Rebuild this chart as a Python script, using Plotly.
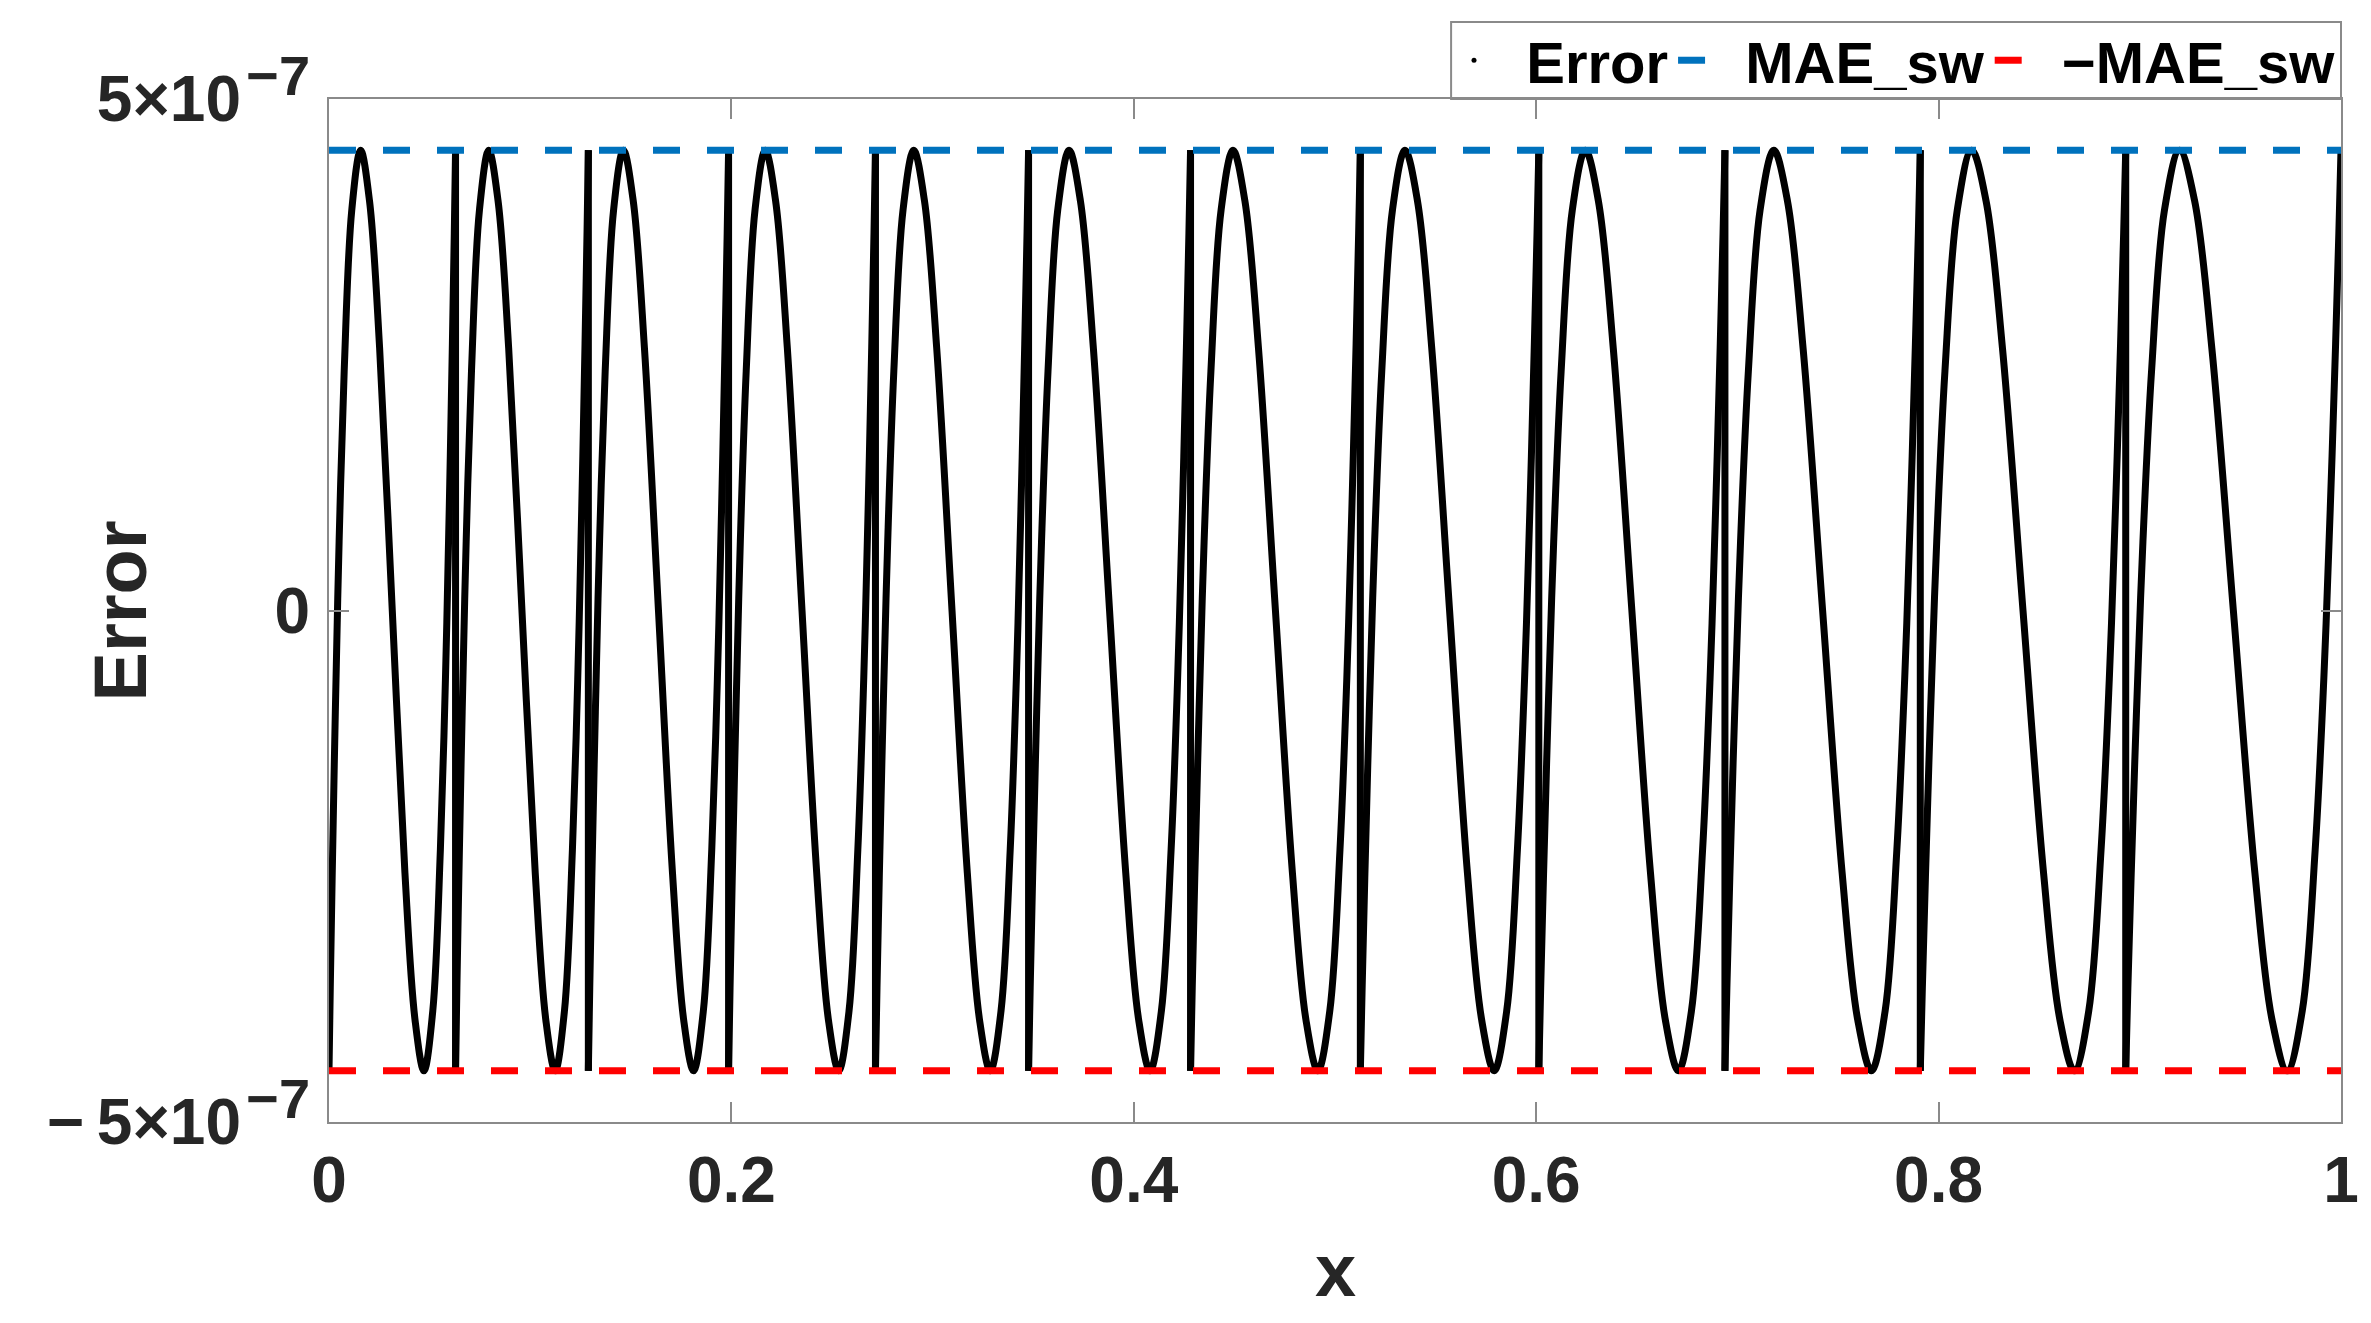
import plotly.graph_objects as go

# ---- data ----
# breakpoints of the piecewise approximation (x positions where the error jumps)
segment_edges = [0.0, 0.0629, 0.1289, 0.1986, 0.2716, 0.3477, 0.4282,
                 0.5126, 0.6013, 0.6938, 0.7909, 0.8930, 1.0]
# maximum absolute error level (dashed lines)
mae_sw = 4.5e-7
profile_frac = [0.0, 0.01, 0.025, 0.05, 0.08, 0.12, 0.18, 0.25, 0.32, 0.40, 0.50,
                0.60, 0.68, 0.75, 0.82, 0.88, 0.92, 0.95, 0.975, 0.99, 1.0]
profile_err = [-1.0, -0.82, -0.58, -0.22, 0.15, 0.52, 0.87, 1.0, 0.89, 0.57, 0.0,
               -0.57, -0.89, -1.0, -0.87, -0.52, -0.15, 0.22, 0.58, 0.82, 1.0]
x_ticks = [0, 0.2, 0.4, 0.6, 0.8, 1]
x_tick_labels = ["0", "0.2", "0.4", "0.6", "0.8", "1"]
y_ticks = [-5e-7, 0, 5e-7]
SUP = "\u200a<sup><span style='font-size:56px'>\u22127</span></sup>\u200b"
y_tick_labels = ["\u2212\u20095\u00d710" + SUP, "0", "5\u00d710" + SUP]
legend_names = ["Error", "MAE_sw", "\u2212MAE_sw"]

# ---- build error curve ----
ex, ey = [], []
jx, jy = [], []
for a, b in zip(segment_edges[:-1], segment_edges[1:]):
    w = b - a
    ex += [a + f * w for f in profile_frac] + [None]
    ey += [mae_sw * p for p in profile_err] + [None]
for e in segment_edges[1:-1]:
    jx += [e, e, None]
    jy += [mae_sw * profile_err[-1], mae_sw * profile_err[0], None]

FONT = "Liberation Sans, Arial, Helvetica, sans-serif"
AXC = "#8a8a8a"
NB = "\u00a0\u00a0"

fig = go.Figure()
fig.add_trace(go.Scatter(x=ex, y=ey, mode="lines", line=dict(color="black", width=7, shape="spline", smoothing=1.0),
                         connectgaps=False, showlegend=False, hoverinfo="skip"))
fig.add_trace(go.Scatter(x=jx, y=jy, mode="lines", line=dict(color="black", width=7),
                         connectgaps=False, showlegend=False, hoverinfo="skip"))
fig.add_trace(go.Scatter(x=[None], y=[None], mode="markers", name=NB + legend_names[0],
                         marker=dict(color="black", size=5)))
fig.add_trace(go.Scatter(x=[0, 1], y=[mae_sw, mae_sw], mode="lines", name=NB + legend_names[1],
                         line=dict(color="#0072BD", width=7, dash="27px,27px")))
fig.add_trace(go.Scatter(x=[0, 1], y=[-mae_sw, -mae_sw], mode="lines", name=NB + legend_names[2],
                         line=dict(color="#FF0000", width=7, dash="27px,27px")))

# page body has an 8px default margin: figure is 8px smaller and margins shifted accordingly
fig.update_layout(
    width=2363, height=1315,
    margin=dict(l=321, r=30, t=91, b=201, autoexpand=False),
    paper_bgcolor="white", plot_bgcolor="white",
    font=dict(family=FONT, size=64, color="#262626", weight="bold"),
    showlegend=True,
    legend=dict(orientation="h", x=1, xanchor="right", y=1.0376, yanchor="middle",
                borderwidth=0, bgcolor="rgba(0,0,0,0)",
                font=dict(family=FONT, size=58, color="black", weight="bold"),
                itemwidth=30, tracegroupgap=0),
    shapes=[dict(type="rect", xref="paper", yref="paper", x0=0.5577, x1=1.0, y0=1.0, y1=1.0753,
                 line=dict(color=AXC, width=2), fillcolor="white", layer="below")],
    xaxis=dict(range=[0, 1], tickvals=x_ticks, ticktext=x_tick_labels, automargin=False,
               showgrid=False, zeroline=False, showline=True, linecolor=AXC, linewidth=2,
               mirror="allticks", ticks="inside", ticklen=20, tickwidth=2, tickcolor=AXC,
               ticklabelstandoff=1),
    yaxis=dict(range=[-5e-7, 5e-7], tickvals=y_ticks, ticktext=y_tick_labels, automargin=False,
               showgrid=False, zeroline=False, showline=True, linecolor=AXC, linewidth=2,
               mirror="allticks", ticks="inside", ticklen=20, tickwidth=2, tickcolor=AXC,
               ticklabelstandoff=4),
    annotations=[
        dict(text="x", xref="paper", yref="paper", x=0.5, y=-0.1456, xanchor="center", yanchor="middle",
             showarrow=False, font=dict(family=FONT, size=74, color="#262626", weight="bold")),
        dict(text="Error", xref="paper", yref="paper", x=-0.1034, y=0.5, xanchor="center", yanchor="middle",
             textangle=-90, showarrow=False, font=dict(family=FONT, size=74, color="#262626", weight="bold")),
    ],
)

fig.write_html("out.html")
